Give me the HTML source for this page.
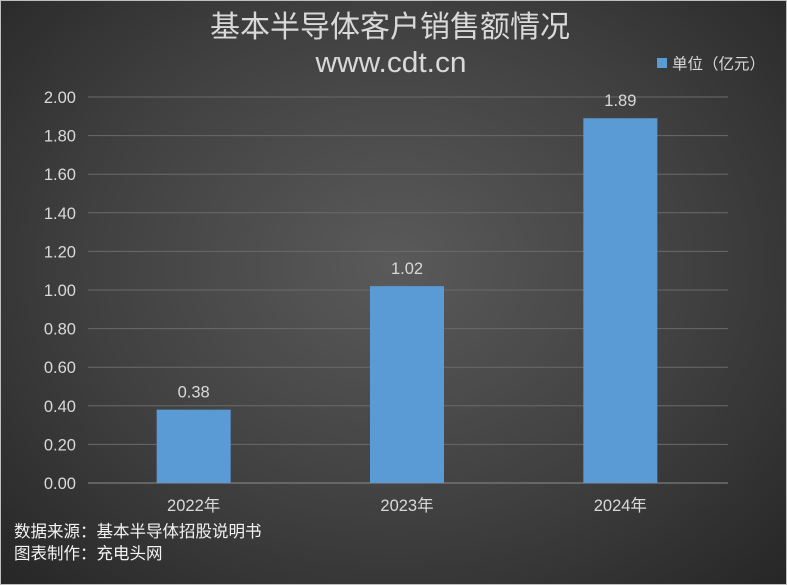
<!DOCTYPE html>
<html><head><meta charset="utf-8"><style>
body{margin:0;}
#c{width:787px;height:585px;position:relative;overflow:hidden;background:radial-gradient(ellipse at 50% 45%,#5a5a5a 0%,#404040 55%,#262626 100%);font-family:"Liberation Sans","Noto Sans CJK SC",sans-serif;}
</style></head><body>
<div id="c">
<svg width="787" height="585" id="svg">
<rect x="0.5" y="0.5" width="786" height="584" fill="none" stroke="#bfbfbf"/>
<text x="390" y="37" text-anchor="middle" font-size="30" fill="#d9d9d9">基本半导体客户销售额情况</text>
<text x="391" y="72" text-anchor="middle" font-size="29" fill="#d9d9d9" transform="translate(391 0) scale(1.03 1) translate(-391 0)">www.cdt.cn</text>
<rect x="657" y="58" width="10" height="10" fill="#5b9bd5"/>
<text x="672" y="69" font-size="15.5" fill="#d9d9d9">单位（亿元）</text>
<g id="plot"></g>
<text x="14" y="537" font-size="16.5" fill="#f2f2f2">数据来源：基本半导体招股说明书</text>
<text x="14" y="559" font-size="16.5" fill="#f2f2f2">图表制作：充电头网</text>
</svg>
</div>
<script>
const categories=["2022年","2023年","2024年"];
const values=[0.38,1.02,1.89];
const ticks=[0,0.2,0.4,0.6,0.8,1.0,1.2,1.4,1.6,1.8,2.0];
const NS="http://www.w3.org/2000/svg";
const g=document.getElementById('plot');
const x0=88,x1=728,yTop=97,yBot=483,maxV=2;
const y=v=>yBot-(v/maxV)*(yBot-yTop);
const band=(x1-x0)/categories.length;
const xc=i=>x0+band*(i+0.5)-1;
function mk(t,a,txt){const e=document.createElementNS(NS,t);for(const k in a)e.setAttribute(k,a[k]);if(txt!=null)e.textContent=txt;g.appendChild(e);return e;}
ticks.forEach(t=>{
 const l=mk('line',{x1:x0,x2:x1,y1:y(t),y2:y(t),stroke:t===0?'#8c8c8c':'#6a6a6a','stroke-width':1});
 
 
 const tx=mk('text',{x:76,y:y(t)+6,'text-anchor':'end','font-size':16.5,fill:'#d9d9d9'},t.toFixed(2));
 
 
});
categories.forEach((c,i)=>{
 const w=74;
 const r=mk('rect',{x:xc(i)-w/2,y:y(values[i]),width:w,height:yBot-y(values[i]),fill:'#5b9bd5'});
 
 
 const v=mk('text',{x:xc(i),y:y(values[i])-12,'text-anchor':'middle','font-size':16.5,fill:'#d9d9d9'},values[i].toFixed(2));
 
 
 const xl=mk('text',{x:xc(i),y:511,'text-anchor':'middle','font-size':16.5,fill:'#d9d9d9'},c);
 
 
});
</script>
</body></html>
